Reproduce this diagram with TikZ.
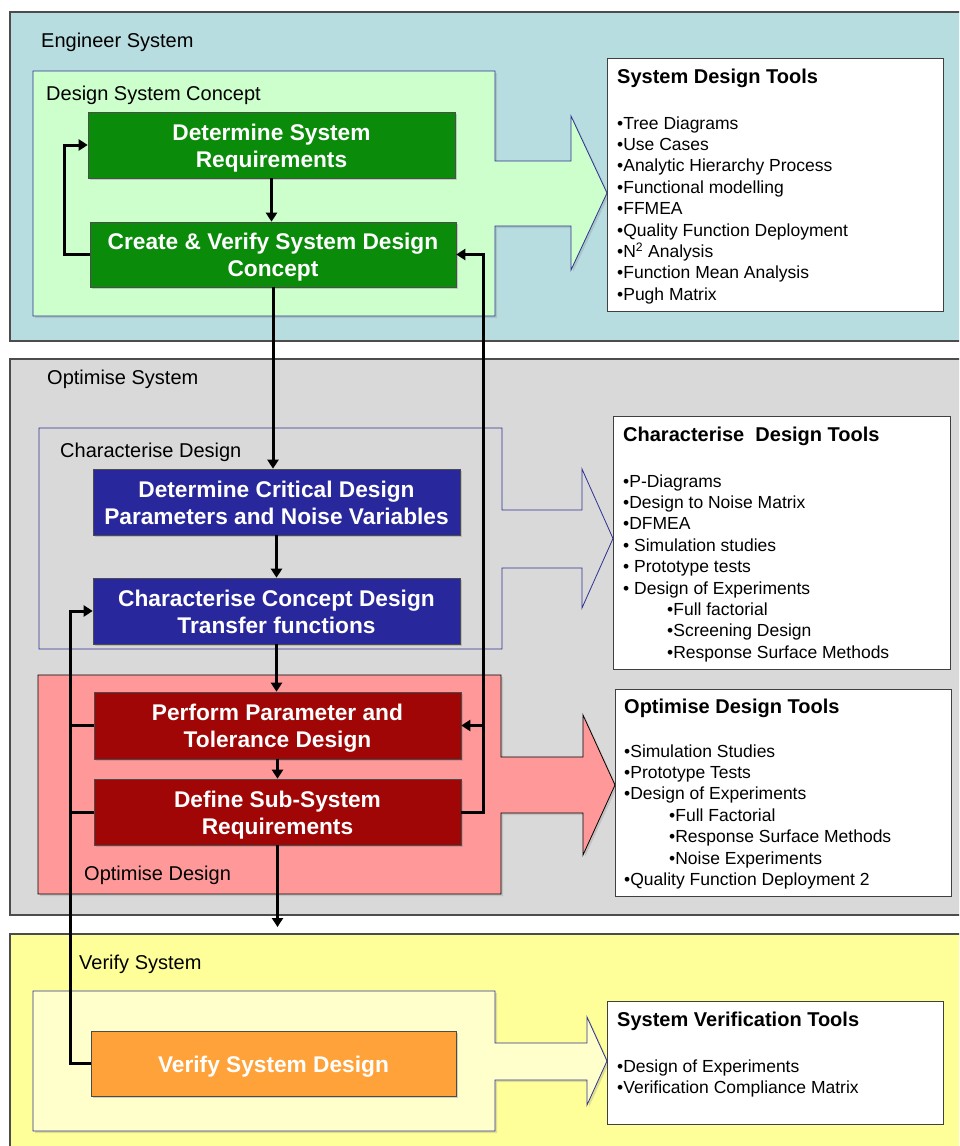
\documentclass[tikz,border=0pt]{standalone}
\usepackage{fontspec}
\setmainfont{Liberation Sans}
\usetikzlibrary{calc, positioning}
\usetikzlibrary{arrows.meta}
\usetikzlibrary{shadows}

\definecolor{engband}{RGB}{183,221,224}
\definecolor{optband}{RGB}{217,217,217}
\definecolor{verband}{RGB}{255,255,153}
\definecolor{conceptfill}{RGB}{204,255,204}
\definecolor{optfill}{RGB}{255,153,153}
\definecolor{verfill}{RGB}{255,255,204}
\definecolor{stageline}{RGB}{46,49,146}
\definecolor{procgreen}{RGB}{10,140,10}
\definecolor{procblue}{RGB}{40,40,156}
\definecolor{procred}{RGB}{160,6,6}
\definecolor{procorange}{RGB}{255,162,58}

\tikzset{
  band/.style={draw=black!70, line width=1.2pt},
  stage/.style={draw=stageline, line width=0.8pt},
  shadowed/.style={drop shadow={opacity=0.25, shadow xshift=2pt, shadow yshift=-2pt}},
  stagelabel/.style={anchor=base west, inner sep=0pt, font=\fontsize{20}{24}\selectfont},
  proc/.style={minimum width=367, minimum height=66, inner sep=0pt, align=center,
    text=white, draw=black!70, line width=0.6pt,
    font=\fontsize{22.7}{27}\selectfont\bfseries,
    drop shadow={opacity=0.35, shadow xshift=1.5pt, shadow yshift=-1.5pt}},
  toolbox/.style={draw=black!75, fill=white, line width=1pt, inner sep=0pt, anchor=north west},
  toollist/.style={anchor=north west, align=left, inner sep=0pt,
    font=\fontsize{17.5}{21.4}\selectfont},
  flow/.style={line width=3pt, -{Triangle[length=9pt, width=11pt]}},
  bus/.style={line width=3pt}
}
\newcommand{\tooltitle}[1]{{\fontsize{20}{21.4}\selectfont\bfseries #1}}
\newcommand{\pstrut}{\rule[-5pt]{0pt}{27pt}}

\begin{document}
\begin{tikzpicture}[x=1pt, y=-1pt]
\useasboundingbox (0,0) rectangle (959,1146);
\clip (0,0) rectangle (959,1146);
\fill[white] (0,0) rectangle (959,1146);

% bands
\draw[band, fill=engband] (10,12) rectangle (975,341);
\draw[band, fill=optband] (10,359) rectangle (975,915);
\draw[band, fill=verband] (10,934) rectangle (975,1160);

% stage containers with their arrows
\draw[stage, shadowed, fill=conceptfill] (33,71) -- (495,71) -- (495,161) -- (571,161) -- (571,116)
  -- (607,193) -- (571,270) -- (571,226) -- (495,226) -- (495,316) -- (33,316) -- cycle;
\draw[stage] (39,428) -- (502,428) -- (502,510) -- (582,510) -- (582,469)
  -- (613,538.5) -- (582,608) -- (582,568) -- (502,568) -- (502,649) -- (39,649) -- cycle;
\draw[stage, shadowed, draw=black, fill=optfill] (38,675) -- (501,675) -- (501,757) -- (583,757) -- (583,715)
  -- (615,785) -- (583,855) -- (583,813) -- (501,813) -- (501,894) -- (38,894) -- cycle;
\draw[stage, shadowed, fill=verfill] (33,991) -- (495,991) -- (495,1043) -- (587,1043) -- (587,1017)
  -- (607,1061) -- (587,1105) -- (587,1080) -- (495,1080) -- (495,1131) -- (33,1131) -- cycle;

% labels
\node[stagelabel] (englabel) at (41,47) {Engineer System};
\node[stagelabel] (dsclabel) at (46,100) {Design System Concept};
\node[stagelabel] (optlabel) at (47,384) {Optimise System};
\node[stagelabel] (chlabel) at (60,457) {Characterise Design};
\node[stagelabel] (odlabel) at (84,880) {Optimise Design};
\node[stagelabel] (verlabel) at (79,969) {Verify System};

% process steps
\node[proc, fill=procgreen] (dsr) at (271.5,145) {\pstrut Determine System\\\pstrut Requirements};
\node[proc, fill=procgreen, minimum width=366, minimum height=65] (cvs) at (273,254.5) {\pstrut Create \& Verify System Design\\\pstrut Concept};
\node[proc, fill=procblue] (dcd) at (276.5,502) {\pstrut Determine Critical Design\\\pstrut Parameters and Noise Variables};
\node[proc, fill=procblue] (ccd) at (276.5,611) {\pstrut Characterise Concept Design\\\pstrut Transfer functions};
\node[proc, fill=procred, minimum height=67] (ppt) at (277.5,725.5) {\pstrut Perform Parameter and\\\pstrut Tolerance Design};
\node[proc, fill=procred] (dss) at (277.5,812) {\pstrut Define Sub-System\\\pstrut Requirements};
\node[proc, fill=procorange, minimum width=365, minimum height=65] (vsd) at (273.5,1063.5) {\pstrut Verify System Design};

% tool boxes
\node[toolbox, minimum width=336, minimum height=253] (sdt) at (607,58) {};
\node[toollist] (sdtlist) at (617,68.4) {\tooltitle{System Design Tools}\\[24.6pt]
  •Tree Diagrams\\
  •Use Cases\\
  •Analytic Hierarchy Process\\
  •Functional modelling\\
  •FFMEA\\
  •Quality Function Deployment\\
  •N\textsuperscript{2} Analysis\\
  •Function Mean Analysis\\
  •Pugh Matrix};

\node[toolbox, minimum width=337, minimum height=253] (cdt) at (613,416) {};
\node[toollist] (cdtlist) at (623,426.4) {\tooltitle{Characterise\ \ Design Tools}\\[24.6pt]
  •P-Diagrams\\
  •Design to Noise Matrix\\
  •DFMEA\\
  • Simulation studies\\
  • Prototype tests\\
  • Design of Experiments\\
  \hspace*{44pt}•Full factorial\\
  \hspace*{44pt}•Screening Design\\
  \hspace*{44pt}•Response Surface Methods};

\node[toolbox, minimum width=336, minimum height=207] (odt) at (615,689) {};
\node[toollist] (odtlist) at (624,698.4) {\tooltitle{Optimise Design Tools}\\[22.6pt]
  •Simulation Studies\\
  •Prototype Tests\\
  •Design of Experiments\\
  \hspace*{45pt}•Full Factorial\\
  \hspace*{45pt}•Response Surface Methods\\
  \hspace*{45pt}•Noise Experiments\\
  •Quality Function Deployment 2};

\node[toolbox, minimum width=336, minimum height=123] (svt) at (607,1001) {};
\node[toollist] (svtlist) at (617,1011.4) {\tooltitle{System Verification Tools}\\[24.6pt]
  •Design of Experiments\\
  •Verification Compliance Matrix};

% connectors
\coordinate (rbus) at (483,0);
\coordinate (lbus) at (70,0);
\coordinate (vsin) at (277.5,927);

\draw[flow] (dsr.south) -- (dsr.south |- cvs.north);
\draw[flow] (cvs.west) -- ++(-25,0) |- (dsr.west);
\draw[flow] (cvs.south) -- (cvs.south |- dcd.north);
\draw[flow] (dcd) -- (ccd);
\draw[flow] (ccd.south) -- (ccd.south |- ppt.north);
\draw[flow] (ppt) -- (dss);
\draw[flow] (dss.south) -- (vsin);
\draw[flow] (dss.east) -- (dss.east -| rbus) |- (cvs.east);
\draw[flow] (ppt.east -| rbus) -- (ppt.east);
\draw[flow] (vsd.west) -- (vsd.west -| lbus) |- (ccd.west);
\draw[bus] (ppt.west) -- (ppt.west -| lbus);
\draw[bus] (dss.west) -- (dss.west -| lbus);

\end{tikzpicture}
\end{document}
